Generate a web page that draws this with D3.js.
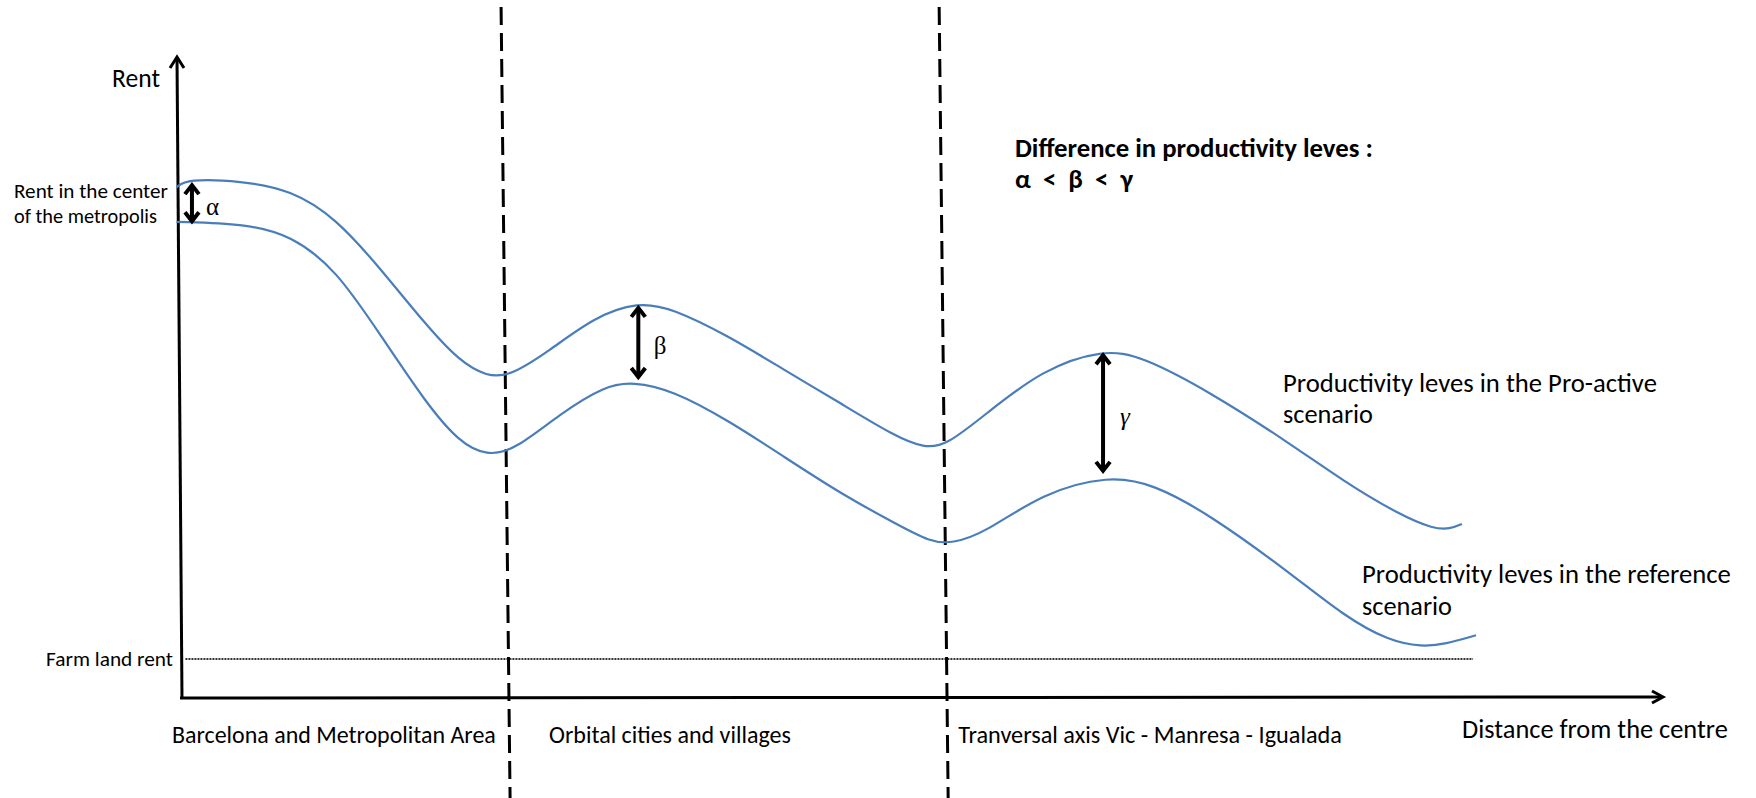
<!DOCTYPE html>
<html lang="en">
<head>
<meta charset="utf-8">
<title>Rent and distance from the centre</title>
<script src="https://d3js.org/d3.v7.min.js"></script>
<style>
body { margin: 0; background: white; }
text { font-family: Carlito, Lato, "Open Sans", sans-serif; fill: #000; }
text.greek { font-family: "Liberation Serif", "DejaVu Serif", serif; }
</style>
</head>
<body>
<div id="container"></div>
<script>
// distance from the centre (0-100) and rent (0-100)
var distPro = [-0.3, 0.4, 4.05, 7.43, 10.47, 13.51, 16.55, 18.78, 20.68, 22.23, 24.86, 27.91, 30.88, 33.18, 36.96, 40.74, 44.53, 48.31, 50.2, 51.69, 54.39, 58.18, 62.3, 64.93, 69.53, 74.8, 78.58, 82.36, 84.66, 85.74, 86.55];
var rentPro = [79.8, 81.1, 80.8, 79.4, 75.0, 67.0, 58.3, 52.7, 50.2, 50.3, 54.2, 59.5, 61.9, 60.9, 56.6, 51.3, 46.1, 40.8, 39.1, 39.4, 44.4, 51.3, 54.5, 53.4, 47.8, 40.0, 33.8, 28.6, 26.4, 26.4, 27.2];
var distRef = [-0.3, 4.39, 7.43, 10.47, 13.51, 16.55, 18.78, 20.68, 22.57, 25.61, 28.65, 30.54, 33.18, 36.96, 40.74, 44.53, 48.31, 50.61, 52.09, 54.39, 58.18, 62.7, 65.74, 69.53, 74.8, 78.58, 81.62, 83.85, 85.41, 87.5];
var rentRef = [74.4, 74.1, 72.3, 67.0, 56.6, 46.1, 40.0, 37.8, 38.8, 44.4, 48.8, 49.4, 48.1, 43.4, 37.7, 32.0, 27.2, 24.4, 24.1, 25.9, 32.0, 34.8, 33.4, 28.6, 19.8, 12.8, 8.9, 8.0, 8.4, 9.8];

var farmRent = 6.1;
var farmRange = [0.3, 87.3];

var zoneBorders = [22.1, 51.7];
var zoneNames = ["Barcelona and Metropolitan Area", "Orbital cities and villages", "Tranversal axis Vic - Manresa - Igualada"];

var gapNames = ["\u03b1", "\u03b2", "\u03b3"];
var gapAt = [0.74, 30.9, 62.3];

var seriesNames = ["Productivity leves in the Pro-active", "Productivity leves in the reference"];

//layout
var w = 1756;
var h = 798;

var svg = d3.select("#container").append("svg")
    .attr("width", w).attr("height", h)
    .style("background", "white");

var x = d3.scaleLinear().domain([0, 100]).range([181, 1661]);
var y = d3.scaleLinear().domain([0, 100]).range([698, 58]);

//fit a text to a measured width
function fit(sel, width) {
    sel.each(function() {
        var n = this.getComputedTextLength();
        var fs = parseFloat(d3.select(this).style("font-size"));
        d3.select(this).style("font-size", (fs * width / n) + "px");
    });
}

function label(txt, px, py, width, opts) {
    opts = opts || {};
    var t = svg.append("text")
        .attr("x", px).attr("y", py)
        .attr("text-anchor", opts.anchor || "start")
        .style("font-size", "20px")
        .style("font-weight", opts.bold ? "bold" : "normal")
        .attr("xml:space", "preserve")
        .text(txt);
    if (width) fit(t, width);
    return t;
}

// farm land rent (dotted)
svg.append("line")
    .attr("x1", x(farmRange[0])).attr("x2", x(farmRange[1]))
    .attr("y1", y(farmRent)).attr("y2", y(farmRent))
    .attr("stroke", "#333").attr("stroke-width", 2)
    .attr("stroke-dasharray", "2,1");

// zone borders (dashed, slightly slanted like the original drawing)
zoneBorders.forEach(function(b) {
    var xb = x(b);
    svg.append("line")
        .attr("x1", xb - 7).attr("y1", 7)
        .attr("x2", xb + 2).attr("y2", h)
        .attr("stroke", "#000").attr("stroke-width", 3)
        .attr("stroke-dasharray", "18,8");
});

// axes
svg.append("line")
    .attr("x1", x(0) + 1).attr("y1", y(0))
    .attr("x2", x(0) - 4).attr("y2", 58)
    .attr("stroke", "#000").attr("stroke-width", 3);
svg.append("path")
    .attr("d", "M" + (x(0) - 11) + ",68L" + (x(0) - 4) + ",57L" + (x(0) + 3) + ",68")
    .attr("fill", "none").attr("stroke", "#000").attr("stroke-width", 3);

svg.append("line")
    .attr("x1", x(0) - 1).attr("y1", y(0))
    .attr("x2", 1662).attr("y2", 697)
    .attr("stroke", "#000").attr("stroke-width", 3);
svg.append("path")
    .attr("d", "M1652,691L1663,697L1652,703")
    .attr("fill", "none").attr("stroke", "#000").attr("stroke-width", 3);

// curves
var line = d3.line()
    .x(function(d) { return x(d[0]); })
    .y(function(d) { return y(d[1]); })
    .curve(d3.curveBasis);

var pro = d3.zip(distPro, rentPro);
var ref = d3.zip(distRef, rentRef);

svg.selectAll("path.curve")
    .data([pro, ref])
    .enter()
    .append("path")
    .attr("class", "curve")
    .attr("d", line)
    .attr("fill", "none")
    .attr("stroke", "#4a7ebb")
    .attr("stroke-width", 2.2);

// value of a series at a distance
function valueAt(ds, vs, d) {
    var i = d3.bisectLeft(ds, d);
    if (i <= 0) return vs[0];
    if (i >= ds.length) return vs[vs.length - 1];
    var t = (d - ds[i - 1]) / (ds[i] - ds[i - 1]);
    return vs[i - 1] + t * (vs[i] - vs[i - 1]);
}

// gap arrows
gapAt.forEach(function(g, i) {
    var px = x(g);
    var top = y(valueAt(distPro, rentPro, g)) + 5;
    var bot = y(valueAt(distRef, rentRef, g)) - (i == 0 ? 0 : 5);
    var a = svg.append("g");
    a.append("line")
        .attr("x1", px).attr("x2", px)
        .attr("y1", top + 2).attr("y2", bot - 2)
        .attr("stroke", "#000").attr("stroke-width", 4);
    a.append("path")
        .attr("d", "M" + (px - 7) + "," + (top + 10) + "L" + px + "," + (top + 1) + "L" + (px + 7) + "," + (top + 10))
        .attr("fill", "none").attr("stroke", "#000").attr("stroke-width", 4);
    a.append("path")
        .attr("d", "M" + (px - 7) + "," + (bot - 10) + "L" + px + "," + (bot - 1) + "L" + (px + 7) + "," + (bot - 10))
        .attr("fill", "none").attr("stroke", "#000").attr("stroke-width", 4);
    a.append("text")
        .attr("class", "greek")
        .attr("x", px + 14 + i * 1.5)
        .attr("y", (top + bot) / 2 + 12)
        .style("font-size", "25px")
        .style("font-style", i == 2 ? "italic" : "normal")
        .text(gapNames[i]);
});

// axis titles and side labels
label("Rent", 112, 87, 48);
label("Rent in the center", 14, 198, 154);
label("of the metropolis", 14, 223, 143);
label("Farm land rent", 173, 666, 127, {anchor: "end"});
label("Distance from the centre", 1462, 738, 266);

// zone labels
label(zoneNames[0], 172, 743, 324);
label(zoneNames[1], 549, 743, 242);
label(zoneNames[2], x(zoneBorders[1]) + 12, 743, 384);

// series labels
label(seriesNames[0], 1283, 392, 374);
label("scenario", 1283, 423, 90);
label(seriesNames[1], 1362, 583, 369);
label("scenario", 1362, 615, 90);

// note
label("Difference in productivity leves :", 1015, 157, 358, {bold: true});
label(gapNames[0] + "  <  " + gapNames[1] + "  <  " + gapNames[2], 1015, 188, 118, {bold: true});
</script>
</body>
</html>
